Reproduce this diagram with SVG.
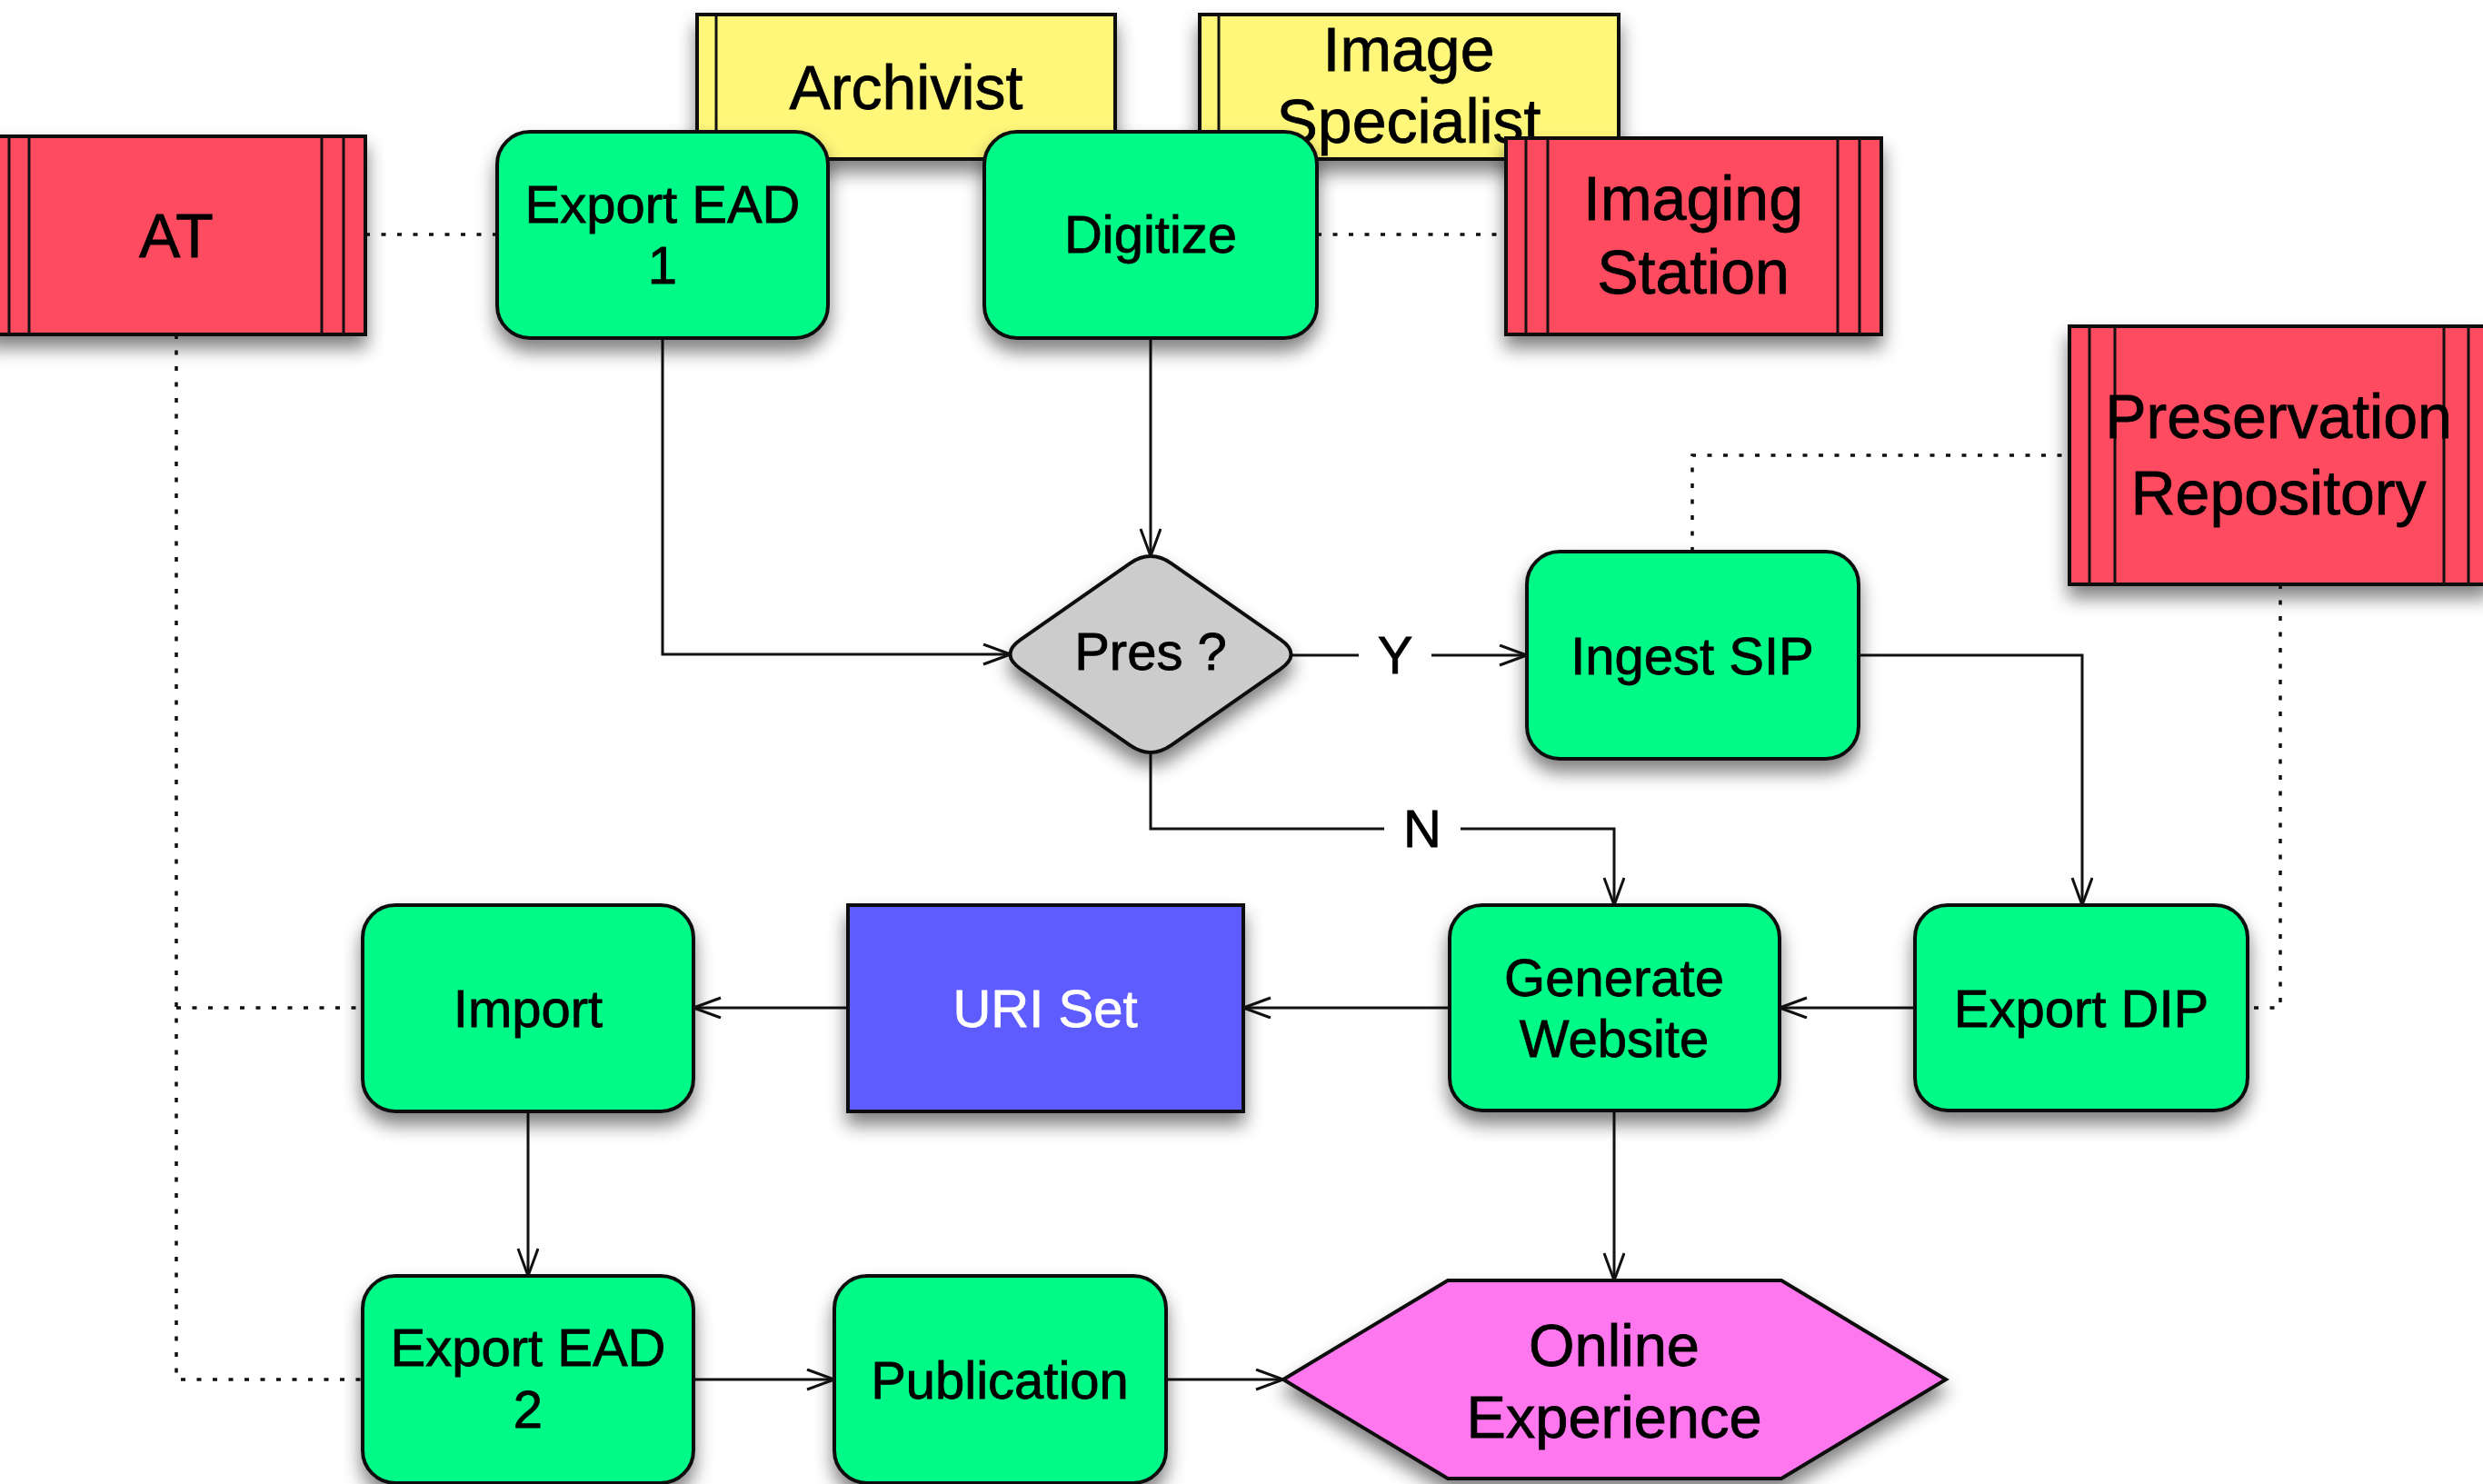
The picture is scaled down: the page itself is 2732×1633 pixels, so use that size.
<svg xmlns="http://www.w3.org/2000/svg" width="2732" height="1633" viewBox="0 0 2732 1633">
<style>
text{font-family:"Liberation Sans",Arial,Helvetica,sans-serif;text-anchor:middle;fill:#000;stroke:#000;stroke-width:0.8}
.t58{font-size:58px}
.t68{font-size:68px}
.t65{font-size:65px}
.shape{stroke:#111;stroke-width:4}
.green{fill:#00FA87}
.red{fill:#FF4B5F}
.yellow{fill:#FFF77A}
.grey{fill:#CCCCCC}
.blue{fill:#5F5CFF}
.pink{fill:#FF77EE}
.div{stroke:#111;stroke-width:3}
.conn{fill:none;stroke:#111;stroke-width:3}
.arr{marker-end:url(#ah)}
.dot{fill:none;stroke:#111;stroke-width:3.5;stroke-dasharray:5 12.5}
.white{fill:#fff;stroke:#fff}
</style>
<defs>
<filter id="sh" x="-15%" y="-15%" width="140%" height="150%">
<feGaussianBlur in="SourceAlpha" stdDeviation="10"/>
<feOffset dx="0" dy="13"/>
<feComponentTransfer><feFuncA type="linear" slope="0.5"/></feComponentTransfer>
<feMerge><feMergeNode/><feMergeNode in="SourceGraphic"/></feMerge>
</filter>
<marker id="ah" markerUnits="userSpaceOnUse" markerWidth="40" markerHeight="30" refX="31" refY="12" orient="auto">
<path d="M1,1 L31,12 L1,23" fill="none" stroke="#111" stroke-width="3"/>
</marker>
</defs>
<rect width="2732" height="1633" fill="#fff"/>

<g id="connectors">
<path class="conn arr" d="M729,372 V720 H1112"/>
<path class="conn arr" d="M1266,372 V612"/>
<path class="conn" d="M1419,721 H1495"/>
<path class="conn arr" d="M1575,721 H1680"/>
<path class="conn" d="M1266,828 V912 H1523"/>
<path class="conn arr" d="M1607,912 H1776 V996"/>
<path class="conn arr" d="M2045,721 H2291 V996"/>
<path class="conn arr" d="M2107,1109 H1958"/>
<path class="conn arr" d="M1595,1109 H1368"/>
<path class="conn arr" d="M933,1109 H763"/>
<path class="conn arr" d="M581,1223 V1404"/>
<path class="conn arr" d="M763,1518 H918"/>
<path class="conn arr" d="M1283,1518 H1412"/>
<path class="conn arr" d="M1776,1222 V1409"/>
<path class="dot" d="M402,258 H547"/>
<path class="dot" d="M1449,258 H1657"/>
<path class="dot" d="M194,368 V1518 H399"/>
<path class="dot" d="M194,1109 H399"/>
<path class="dot" d="M1862,607 V501 H2277"/>
<path class="dot" d="M2509,643 V1109 H2473"/>
<text class="t58" x="1535" y="741">Y</text>
<text class="t58" x="1565" y="932">N</text>
</g>

<g id="archivist">
<rect class="shape yellow" filter="url(#sh)" x="767" y="16" width="460" height="159"/>
<line class="div" x1="788" y1="16" x2="788" y2="175"/>
<text class="t68" x="997" y="120">Archivist</text>
</g>
<g id="image-specialist">
<rect class="shape yellow" filter="url(#sh)" x="1320" y="16" width="461" height="159"/>
<line class="div" x1="1341" y1="16" x2="1341" y2="175"/>
<text class="t68" x="1550" y="78">Image</text>
<text class="t68" x="1550" y="157">Specialist</text>
</g>

<g id="at">
<rect class="shape red" filter="url(#sh)" x="-14" y="150" width="416" height="218"/>
<line class="div" x1="10" y1="150" x2="10" y2="368"/>
<line class="div" x1="32" y1="150" x2="32" y2="368"/>
<line class="div" x1="354" y1="150" x2="354" y2="368"/>
<line class="div" x1="378" y1="150" x2="378" y2="368"/>
<text class="t68" x="194" y="283">AT</text>
</g>

<g id="export-ead-1">
<rect class="shape green" filter="url(#sh)" x="547" y="145" width="364" height="227" rx="36"/>
<text class="t58" x="729" y="245">Export EAD</text>
<text class="t58" x="729" y="312">1</text>
</g>

<g id="digitize">
<rect class="shape green" filter="url(#sh)" x="1083" y="145" width="366" height="227" rx="36"/>
<text class="t58" x="1266" y="278">Digitize</text>
</g>

<g id="imaging-station">
<rect class="shape red" filter="url(#sh)" x="1657" y="152" width="413" height="216"/>
<line class="div" x1="1679" y1="152" x2="1679" y2="368"/>
<line class="div" x1="1703" y1="152" x2="1703" y2="368"/>
<line class="div" x1="2022" y1="152" x2="2022" y2="368"/>
<line class="div" x1="2046" y1="152" x2="2046" y2="368"/>
<text class="t68" x="1863" y="242">Imaging</text>
<text class="t68" x="1863" y="323">Station</text>
</g>

<g id="preservation-repository">
<rect class="shape red" filter="url(#sh)" x="2277" y="359" width="461" height="284"/>
<line class="div" x1="2299" y1="359" x2="2299" y2="643"/>
<line class="div" x1="2327" y1="359" x2="2327" y2="643"/>
<line class="div" x1="2689" y1="359" x2="2689" y2="643"/>
<line class="div" x1="2716" y1="359" x2="2716" y2="643"/>
<text class="t68" x="2507" y="482">Preservation</text>
<text class="t68" x="2507" y="566">Repository</text>
</g>

<g id="pres">
<path class="shape grey" filter="url(#sh)" d="M1288.95,620.04 L1409.05,703.96 Q1432,720 1409.05,736.04 L1288.95,819.96 Q1266,836 1243.05,819.96 L1122.95,736.04 Q1100,720 1122.95,703.96 L1243.05,620.04 Q1266,604 1288.95,620.04 Z"/>
<text class="t58" x="1266" y="737">Pres ?</text>
</g>

<g id="ingest-sip">
<rect class="shape green" filter="url(#sh)" x="1680" y="607" width="365" height="228" rx="36"/>
<text class="t58" x="1862" y="742">Ingest SIP</text>
</g>

<g id="import">
<rect class="shape green" filter="url(#sh)" x="399" y="996" width="364" height="227" rx="36"/>
<text class="t58" x="581" y="1130">Import</text>
</g>

<g id="uri-set">
<rect class="shape blue" filter="url(#sh)" x="933" y="996" width="435" height="227"/>
<text class="t58 white" x="1150" y="1130">URI Set</text>
</g>

<g id="generate-website">
<rect class="shape green" filter="url(#sh)" x="1595" y="996" width="363" height="226" rx="36"/>
<text class="t58" x="1776" y="1096">Generate</text>
<text class="t58" x="1776" y="1163">Website</text>
</g>

<g id="export-dip">
<rect class="shape green" filter="url(#sh)" x="2107" y="996" width="366" height="226" rx="36"/>
<text class="t58" x="2290" y="1130">Export DIP</text>
</g>

<g id="export-ead-2">
<rect class="shape green" filter="url(#sh)" x="399" y="1404" width="364" height="228" rx="36"/>
<text class="t58" x="581" y="1503">Export EAD</text>
<text class="t58" x="581" y="1571">2</text>
</g>

<g id="publication">
<rect class="shape green" filter="url(#sh)" x="918" y="1404" width="365" height="228" rx="36"/>
<text class="t58" x="1100" y="1539">Publication</text>
</g>

<g id="online-experience">
<polygon class="shape pink" filter="url(#sh)" points="1412,1518 1593,1409 1960,1409 2141,1518 1960,1627 1593,1627"/>
<text class="t65" x="1776" y="1503">Online</text>
<text class="t65" x="1776" y="1582">Experience</text>
</g>
</svg>
